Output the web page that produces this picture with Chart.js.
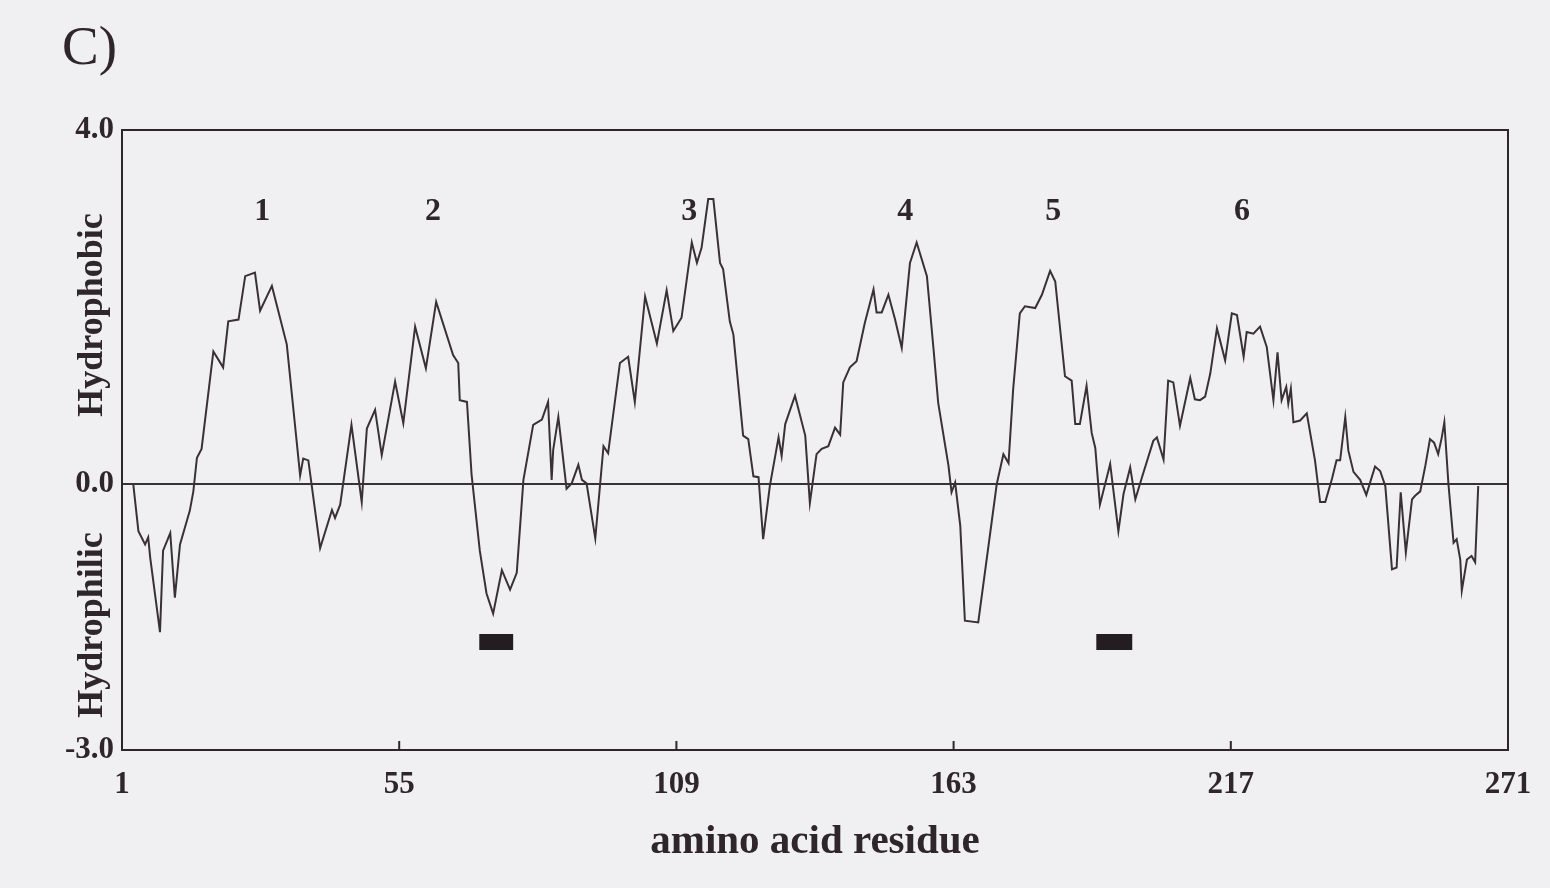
<!DOCTYPE html>
<html>
<head>
<meta charset="utf-8">
<script src="https://cdn.jsdelivr.net/npm/chart.js@4.4.1/dist/chart.umd.min.js"></script>
<style>
  html, body { margin: 0; padding: 0; background: #f0eff1; }
  canvas { display: block; }
</style>
</head>
<body>
<canvas id="hydroChart" width="1550" height="888"></canvas>
<script>
// hydropathy profile, vertices
var residues = [3.2, 4.2, 5.5, 6.1, 6.5, 8.4, 9.0, 10.4, 11.3, 12.3, 14.2, 14.9, 15.6, 16.5, 18.8, 20.7, 21.7, 23.7, 25.0, 26.9,
  27.9, 30.2, 33.1, 35.7, 36.3, 37.3, 39.6, 41.9, 42.5, 43.5, 45.7, 47.7, 48.7, 50.3, 51.6, 54.2, 55.8, 58.1, 60.2, 62.2,
  65.5, 66.5, 66.8, 68.2, 69.1, 70.7, 72.0, 73.3, 75.0, 76.6, 77.9, 79.2, 81.1, 82.8, 84.0, 84.7, 85.0, 86.0, 87.6, 88.6,
  89.9, 90.6, 91.5, 93.2, 94.8, 95.7, 98.0, 99.6, 100.9, 102.9, 105.2, 107.1, 108.4, 110.0, 112.0, 113.0, 113.9, 115.2, 116.2, 117.5,
  118.1, 119.4, 120.1, 122.0, 123.0, 124.0, 125.0, 125.9, 127.2, 128.9, 129.5, 130.2, 132.1, 134.1, 135.0, 136.3, 137.3, 138.6, 139.9, 140.9,
  141.5, 142.8, 144.1, 145.7, 147.4, 148.0, 149.0, 150.3, 151.6, 152.9, 154.5, 155.8, 157.8, 159.1, 160.0, 162.0, 162.6, 163.3, 164.3, 165.2,
  167.8, 171.4, 172.7, 173.7, 174.6, 175.9, 176.9, 178.9, 180.2, 181.8, 182.8, 184.7, 186.0, 186.7, 187.6, 188.9, 189.9, 190.6, 191.5, 193.5,
  195.1, 196.1, 197.4, 198.4, 199.7, 201.9, 202.6, 203.9, 204.8, 205.8, 207.1, 209.1, 210.0, 211.0, 212.0, 213.0, 214.3, 215.9, 217.2, 218.2,
  219.5, 220.1, 221.4, 222.7, 224.0, 225.3, 226.1, 226.9, 227.8, 228.2, 228.7, 229.2, 230.5, 231.8, 233.4, 234.4, 235.4, 236.7, 237.6, 238.3,
  239.3, 239.9, 240.9, 242.2, 243.4, 245.1, 246.1, 247.1, 248.4, 249.3, 250.1, 251.1, 252.3, 252.9, 253.9, 254.9, 255.8, 256.6, 257.4, 258.1,
  258.6, 259.4, 260.4, 261.0, 261.7, 262.0, 263.0, 263.9, 264.6, 265.2];
var hydropathy = [0, -0.53, -0.68, -0.60, -0.83, -1.67, -0.75, -0.55, -1.28, -0.68, -0.30, -0.08, 0.30, 0.40, 1.50, 1.32, 1.84, 1.86, 2.35, 2.39,
  1.96, 2.24, 1.58, 0.10, 0.29, 0.27, -0.72, -0.29, -0.38, -0.23, 0.67, -0.20, 0.63, 0.84, 0.33, 1.16, 0.69, 1.78, 1.31, 2.06,
  1.46, 1.37, 0.95, 0.93, 0.11, -0.75, -1.23, -1.46, -0.97, -1.19, -1.00, 0.05, 0.67, 0.73, 0.93, 0.05, 0.39, 0.76, -0.05, 0.01,
  0.22, 0.05, 0.01, -0.61, 0.43, 0.35, 1.37, 1.44, 0.93, 2.12, 1.59, 2.19, 1.73, 1.88, 2.73, 2.50, 2.67, 3.22, 3.22, 2.50,
  2.43, 1.84, 1.69, 0.55, 0.51, 0.09, 0.08, -0.62, -0.02, 0.53, 0.32, 0.68, 1.00, 0.55, -0.21, 0.34, 0.40, 0.43, 0.64, 0.56,
  1.15, 1.32, 1.39, 1.82, 2.20, 1.94, 1.94, 2.14, 1.86, 1.54, 2.50, 2.73, 2.35, 1.52, 0.92, 0.21, -0.09, 0.02, -0.47, -1.54,
  -1.56, 0, 0.34, 0.24, 1.07, 1.93, 2.01, 1.99, 2.14, 2.41, 2.29, 1.22, 1.17, 0.68, 0.68, 1.11, 0.58, 0.41, -0.23, 0.23,
  -0.53, -0.11, 0.19, -0.17, 0.08, 0.49, 0.53, 0.28, 1.17, 1.15, 0.66, 1.20, 0.96, 0.95, 0.99, 1.25, 1.76, 1.40, 1.93, 1.91,
  1.44, 1.72, 1.70, 1.78, 1.55, 0.95, 1.49, 0.95, 1.10, 0.91, 1.08, 0.70, 0.72, 0.80, 0.27, -0.20, -0.20, 0.06, 0.27, 0.27,
  0.76, 0.38, 0.14, 0.05, -0.12, 0.20, 0.15, -0.02, -0.96, -0.94, -0.09, -0.77, -0.17, -0.13, -0.08, 0.21, 0.51, 0.47, 0.34, 0.53,
  0.70, 0, -0.66, -0.62, -0.85, -1.20, -0.85, -0.81, -0.88, -0.02];

var xTicks = [1, 55, 109, 163, 217, 271];
var yTicks = [-3, 0, 4];

var peakLabels = ["1", "2", "3", "4", "5", "6"];
var peakResidues = [28.3, 61.6, 111.5, 153.6, 182.4, 219.2];
var peakLevel = 3.08;

var barStarts = [70.6, 190.8];
var barEnds = [77.2, 197.8];
var barLevel = -1.78;

var ink = "#2e262a";
var serif = "'Liberation Serif', 'DejaVu Serif', serif";

var profile = residues.map(function (r, i) { return { x: r, y: hydropathy[i] }; });

var datasets = [{
  data: profile,
  borderColor: "#3a3136",
  borderWidth: 2,
  pointRadius: 0,
  tension: 0
}];
barStarts.forEach(function (s, i) {
  datasets.push({
    data: [{ x: s, y: barLevel }, { x: barEnds[i], y: barLevel }],
    borderColor: "#231c20",
    borderWidth: 16,
    borderCapStyle: "butt",
    pointRadius: 0
  });
});

var decorations = {
  id: "decorations",
  afterDraw: function (chart) {
    var ctx = chart.ctx;
    var a = chart.chartArea;
    var xs = chart.scales.x, ys = chart.scales.y;
    ctx.save();
    ctx.strokeStyle = ink;
    ctx.lineWidth = 2;
    ctx.strokeRect(a.left, a.top, a.right - a.left, a.bottom - a.top);

    // small inward ticks on the residue axis
    xTicks.forEach(function (t) {
      var px = xs.getPixelForValue(t);
      ctx.beginPath();
      ctx.moveTo(px, a.bottom);
      ctx.lineTo(px, a.bottom - 9);
      ctx.stroke();
    });

    ctx.fillStyle = ink;
    ctx.textAlign = "center";
    ctx.textBaseline = "middle";
    ctx.font = "bold 32px " + serif;
    peakLabels.forEach(function (lab, i) {
      ctx.fillText(lab, xs.getPixelForValue(peakResidues[i]), ys.getPixelForValue(peakLevel));
    });

    ctx.font = "bold 41px " + serif;
    ctx.fillText("amino acid residue", (a.left + a.right) / 2, 842);

    ctx.font = "bold 36px " + serif;
    ctx.save();
    ctx.translate(93, 315);
    ctx.rotate(-Math.PI / 2);
    ctx.fillText("Hydrophobic", 0, 0);
    ctx.restore();
    ctx.save();
    ctx.translate(93, 625);
    ctx.rotate(-Math.PI / 2);
    ctx.fillText("Hydrophilic", 0, 0);
    ctx.restore();

    ctx.textAlign = "left";
    ctx.textBaseline = "alphabetic";
    ctx.font = "55px " + serif;
    ctx.fillText("C)", 62, 64);
    ctx.restore();
  }
};

var hydroChart = new Chart(document.getElementById("hydroChart"), {
  type: "line",
  data: { datasets: datasets },
  plugins: [decorations],
  options: {
    animation: false,
    responsive: false,
    maintainAspectRatio: false,
    layout: { padding: { left: 0, top: 130, right: 42, bottom: 0 } },
    plugins: { legend: { display: false }, tooltip: { enabled: false } },
    scales: {
      x: {
        type: "linear",
        min: 1,
        max: 271,
        afterBuildTicks: function (scale) {
          scale.ticks = xTicks.map(function (v) { return { value: v }; });
        },
        afterFit: function (scale) { scale.height = 138; },
        grid: { display: false },
        border: { display: false },
        ticks: {
          autoSkip: false,
          maxRotation: 0,
          padding: 8,
          color: ink,
          font: { family: serif, size: 31, weight: "bold" }
        }
      },
      y: {
        min: -3,
        max: 4,
        afterBuildTicks: function (scale) {
          scale.ticks = yTicks.map(function (v) { return { value: v }; });
        },
        afterFit: function (scale) { scale.width = 122; },
        border: { display: false },
        grid: {
          drawTicks: false,
          lineWidth: 2,
          color: function (c) {
            return c.tick && c.tick.value === 0 ? "#3a3136" : "rgba(0,0,0,0)";
          }
        },
        ticks: {
          padding: 8,
          color: ink,
          font: { family: serif, size: 31, weight: "bold" },
          callback: function (v) { return v.toFixed(1); }
        }
      }
    }
  }
});
</script>
</body>
</html>
